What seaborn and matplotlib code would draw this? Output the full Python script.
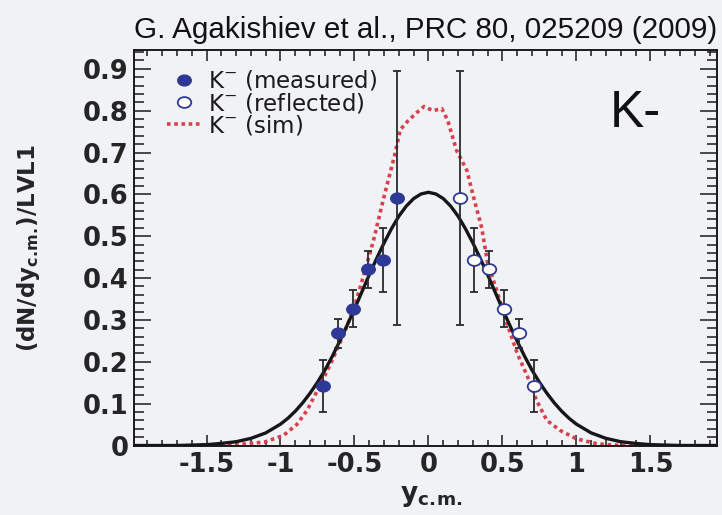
import numpy as np
import pandas as pd
import matplotlib
matplotlib.use("Agg")
import matplotlib.pyplot as plt
import seaborn as sns
from matplotlib.path import Path
from matplotlib.transforms import Affine2D
from matplotlib.lines import Line2D
from matplotlib.ticker import MultipleLocator, FuncFormatter

# ---------------- data ----------------
measured_x = [-0.71, -0.61, -0.51, -0.41, -0.31, -0.21]
measured_y = [0.142, 0.268, 0.327, 0.421, 0.443, 0.591]
measured_err = [0.062, 0.035, 0.044, 0.044, 0.076, 0.304]

reflected_x = [0.21, 0.31, 0.41, 0.51, 0.61, 0.71]
reflected_y = [0.591, 0.443, 0.421, 0.327, 0.268, 0.142]
reflected_err = [0.304, 0.076, 0.044, 0.044, 0.035, 0.062]

fit_x = [-2.0, -1.9, -1.8, -1.7, -1.6, -1.5, -1.4, -1.3, -1.2, -1.1, -1.0,
         -0.95, -0.9, -0.85, -0.8, -0.75, -0.7, -0.65, -0.6, -0.55, -0.5,
         -0.45, -0.4, -0.35, -0.3, -0.25, -0.2, -0.15, -0.1, -0.05, 0.0,
         0.05, 0.1, 0.15, 0.2, 0.25, 0.3, 0.35, 0.4, 0.45, 0.5,
         0.55, 0.6, 0.65, 0.7, 0.75, 0.8, 0.85, 0.9, 0.95, 1.0,
         1.1, 1.2, 1.3, 1.4, 1.5, 1.6, 1.7, 1.8, 1.9, 2.0]
fit_y = [0.0, 0.0, 0.0, 0.0, 0.001, 0.002, 0.005, 0.009, 0.017, 0.030, 0.051,
         0.065, 0.082, 0.102, 0.125, 0.151, 0.180, 0.213, 0.249, 0.287, 0.326,
         0.367, 0.408, 0.447, 0.484, 0.518, 0.548, 0.572, 0.590, 0.601, 0.605,
         0.601, 0.590, 0.572, 0.548, 0.518, 0.484, 0.447, 0.408, 0.367, 0.326,
         0.287, 0.249, 0.213, 0.180, 0.151, 0.125, 0.102, 0.082, 0.065, 0.051,
         0.030, 0.017, 0.009, 0.005, 0.002, 0.001, 0.0, 0.0, 0.0, 0.0]

sim_x = [-1.55, -1.30, -1.11, -0.98, -0.89, -0.82, -0.75, -0.66, -0.57, -0.50,
         -0.44, -0.37, -0.30, -0.23, -0.19, -0.14, -0.08, -0.03, 0.03, 0.09,
         0.13, 0.19, 0.26, 0.30, 0.36, 0.40, 0.46, 0.53, 0.60, 0.67,
         0.73, 0.80, 0.89, 1.00, 1.14, 1.30, 1.55]
sim_y = [0.0, 0.002, 0.008, 0.024, 0.050, 0.084, 0.132, 0.196, 0.268, 0.332,
         0.404, 0.492, 0.595, 0.691, 0.755, 0.775, 0.795, 0.810, 0.800, 0.805,
         0.777, 0.705, 0.657, 0.600, 0.520, 0.436, 0.372, 0.292, 0.220, 0.164,
         0.108, 0.060, 0.036, 0.016, 0.004, 0.0, 0.0]

x_ticks = [-1.5, -1.0, -0.5, 0.0, 0.5, 1.0, 1.5]
y_ticks = [0.0, 0.1, 0.2, 0.3, 0.4, 0.5, 0.6, 0.7, 0.8, 0.9]

title_text = "G. Agakishiev et al., PRC 80, 025209 (2009)"
panel_text = "K-"
legend_labels = [r"K$^{-}$ (measured)", r"K$^{-}$ (reflected)", r"K$^{-}$ (sim)"]
x_label = r"$\mathbf{y}_{\mathbf{c.\!m.\!}}$"
y_label = r"(dN/dy$_{\mathbf{c.\!m.\!}}$)/LVL1"

# ---------------- styling ----------------
sns.set_theme(style="ticks")
bg = "#f1f2f6"
navy = "#2e3997"
red = "#d8404c"
plt.rcParams["font.family"] = ["DejaVu Sans"]
plt.rcParams["mathtext.fontset"] = "dejavusans"

fig = plt.figure(figsize=(7.22, 5.15), dpi=100, facecolor=bg)
ax = fig.add_axes([134 / 722, 1 - 445.5 / 515, (717 - 134) / 722, (445.5 - 50) / 515])
ax.set_facecolor(bg)

ell = Path.unit_circle().transformed(Affine2D().scale(1.0, 0.8))

# fit curve
sns.lineplot(x=fit_x, y=fit_y, ax=ax, color="#161616", linewidth=2.4,
             sort=False, estimator=None, zorder=3)
# simulation curve
sns.lineplot(x=sim_x, y=sim_y, ax=ax, color=red, linewidth=2.6,
             linestyle=(0, (1, 1)), sort=False, estimator=None, zorder=2)

# error bars
ax.errorbar(measured_x, measured_y, yerr=measured_err, fmt="none",
            ecolor="#2a2a2a", elinewidth=1.3, capsize=3.2, capthick=1.3, zorder=4)
ax.errorbar(reflected_x, reflected_y, yerr=reflected_err, fmt="none",
            ecolor="#2a2a2a", elinewidth=1.3, capsize=3.2, capthick=1.3, zorder=4)

# markers
sns.scatterplot(x=measured_x, y=measured_y, ax=ax, marker=ell, s=95,
                color=navy, edgecolor=navy, linewidth=1.0, zorder=5)
sns.scatterplot(x=reflected_x, y=reflected_y, ax=ax, marker=ell, s=95,
                color="white", edgecolor=navy, linewidth=1.3, zorder=5)

# axes
ax.set_xlim(-1.99, 1.95)
ax.set_ylim(0.0, 0.945)
ax.set_xticks(x_ticks)
ax.set_yticks(y_ticks)
ax.xaxis.set_minor_locator(MultipleLocator(0.1))
ax.yaxis.set_minor_locator(MultipleLocator(0.02))
fmt = FuncFormatter(lambda v, p: "%g" % v)
ax.xaxis.set_major_formatter(fmt)
ax.yaxis.set_major_formatter(fmt)

for s in ax.spines.values():
    s.set_linewidth(1.4)
    s.set_color("#1a1a1a")

ax.tick_params(axis="both", which="both", direction="in", top=True, right=True,
               color="#1a1a1a", width=1.1)
ax.tick_params(axis="x", which="major", length=8, pad=5)
ax.tick_params(axis="x", which="minor", length=4.3)
ax.tick_params(axis="y", which="major", length=12, pad=4)
ax.tick_params(axis="y", which="minor", length=7)
for lab in ax.get_xticklabels() + ax.get_yticklabels():
    lab.set_fontweight("bold")
    lab.set_fontsize(18.5)
    lab.set_color("#252525")

ax.set_xlabel(x_label, fontsize=19, color="#252525")
ax.xaxis.set_label_coords(0.51, -0.095)
ax.set_ylabel(y_label, fontsize=16.5, fontweight="bold", color="#252525")
ax.yaxis.set_label_coords(-0.158, 0.5)

# legend
handles = [
    Line2D([], [], ls="none", marker=ell, markersize=9.7, mfc=navy, mec=navy),
    Line2D([], [], ls="none", marker=ell, markersize=9.7, mfc="white", mec=navy, mew=1.3),
    Line2D([], [], color=red, lw=2.6, ls=(0, (1, 1))),
]
leg = ax.legend(handles, legend_labels, loc="upper left",
                bbox_to_anchor=(0.056, 0.952), frameon=False, fontsize=16.5,
                handlelength=1.5, handletextpad=0.3, labelspacing=-0.08,
                borderpad=0, borderaxespad=0)
for t in leg.get_texts():
    t.set_color("#1a1a1a")

# annotations
ax.text(0.8165, 0.805, panel_text, transform=ax.transAxes, fontsize=37,
        family=["Liberation Sans", "DejaVu Sans"], va="baseline", ha="left",
        color="#111111")
fig.text(717 / 722, 1 - 37.5 / 515, title_text, fontsize=21.3,
         family=["Liberation Sans", "DejaVu Sans"], ha="right", va="baseline",
         color="#111111")

fig.savefig("out.png", dpi=100, facecolor=bg)
